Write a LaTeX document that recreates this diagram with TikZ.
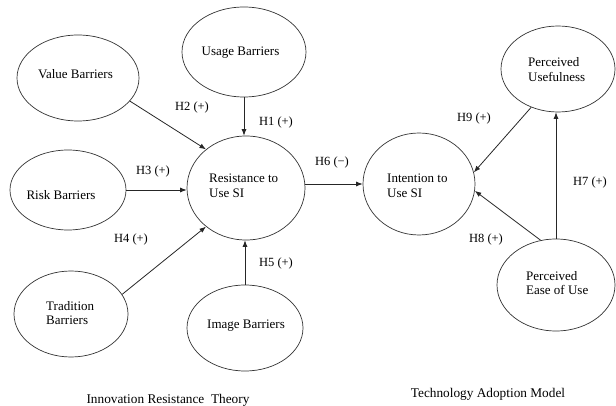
\documentclass[tikz,border=0pt]{standalone}
\usepackage{fontspec}
\setmainfont{Liberation Serif}
\usetikzlibrary{arrows.meta,shapes.geometric}
\begin{document}
\begin{tikzpicture}[x=1pt,y=-1pt,
  oval/.style={draw=black!80, line width=0.7pt, ellipse, inner sep=0pt},
  txt/.style={font=\fontsize{13}{14.5}\selectfont, align=left, inner sep=0pt},
  lab/.style={font=\fontsize{12.5}{14}\selectfont, inner sep=0pt},
  ttl/.style={font=\fontsize{13.3}{15}\selectfont, inner sep=0pt},
  arr/.style={draw=black!85, line width=0.8pt, -{Latex[length=6.5pt,width=5pt]}}]
\useasboundingbox (0,0) rectangle (616,406);
% ellipses
\node[oval, minimum width=122, minimum height=86] (val) at (78,78) {};
\node[oval, minimum width=124, minimum height=90] (use) at (244,52) {};
\node[oval, minimum width=116, minimum height=80] (risk) at (68,190) {};
\node[oval, minimum width=118, minimum height=104] (res) at (246,188) {};
\node[oval, minimum width=114, minimum height=86] (trad) at (71,314) {};
\node[oval, minimum width=116, minimum height=86] (img) at (245,328) {};
\node[oval, minimum width=112, minimum height=102] (int) at (419,184) {};
\node[oval, minimum width=114, minimum height=86] (pu) at (558,69) {};
\node[oval, minimum width=118, minimum height=92] (peou) at (556,285) {};
% texts
\node[txt] (tval) at (75.5,74) {Value Barriers};
\node[txt] (tuse) at (240.5,53) {Usage Barriers};
\node[txt] (trisk) at (61,195) {Risk Barriers};
\node[txt, anchor=west] (tres) at (209,186) {Resistance to\\Use SI};
\node[txt, anchor=west] (ttrad) at (46,313) {Tradition\\Barriers};
\node[txt] (timg) at (246,326) {Image Barriers};
\node[txt, anchor=west] (tint) at (387,186) {Intention to\\Use SI};
\node[txt, anchor=west] (tpu) at (528,69.5) {Perceived\\Usefulness};
\node[txt, anchor=west] (tpeou) at (526,283) {Perceived\\Ease of Use};
% connectors
\draw[arr] (use.south) -- (use.south |- res.north);
\draw[arr] (val.336) -- (res.136);
\draw[arr] (risk.east) -- (risk.east -| res.west);
\draw[arr] (trad.21) -- (res.224);
\draw[arr] (img.north) -- (img.north |- res.south);
\draw[arr] (res.east |- int.west) -- (int.west);
\draw[arr] (pu.235) -- (int.12);
\draw[arr] (peou.109) -- (int.353);
\draw[arr] (peou.north) -- (peou.north |- pu.south);
% labels
\node[lab] (h2) at (192,107) {H2 (+)};
\node[lab] (h1) at (276,122) {H1 (+)};
\node[lab] (h3) at (153,171) {H3 (+)};
\node[lab] (h4) at (131,239) {H4 (+)};
\node[lab] (h5) at (276,263) {H5 (+)};
\node[lab] (h6) at (332,162) {H6 (−)};
\node[lab] (h9) at (474,118) {H9 (+)};
\node[lab] (h7) at (590,182) {H7 (+)};
\node[lab] (h8) at (486,239) {H8 (+)};
% titles
\node[ttl] (irt) at (168,400) {Innovation Resistance\ \ Theory};
\node[ttl] (tam) at (488,394) {Technology Adoption Model};
\end{tikzpicture}
\end{document}
